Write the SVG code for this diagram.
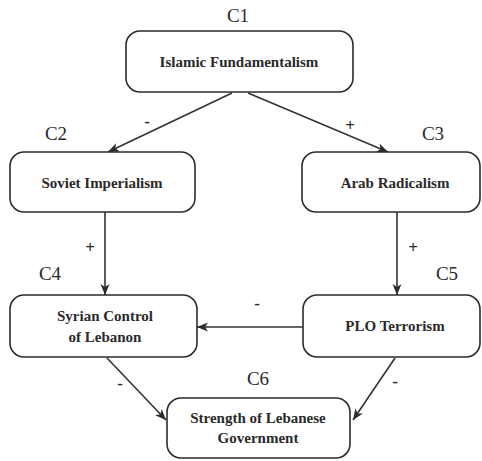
<svg xmlns="http://www.w3.org/2000/svg" width="482" height="461" viewBox="0 0 482 461">
<style>
.box{fill:#fff;stroke:#2b2b2b;stroke-width:1.6}
text{font-family:'Liberation Serif','Times New Roman',Times,serif;fill:#2a2a2a;text-anchor:middle}
.t{font-size:15px;font-weight:bold}
.c{font-size:19px}
.s{font-size:17px;font-weight:bold}
.e{stroke:#333;stroke-width:1.6;fill:none;marker-end:url(#ah)}
</style>
<defs>
<marker id="ah" markerUnits="userSpaceOnUse" markerWidth="12" markerHeight="10" refX="11" refY="4.5" orient="auto">
<path d="M0,0 L11,4.5 L0,9 L3,4.5 z" fill="#2b2b2b"/>
</marker>
</defs>
<rect width="482" height="461" fill="#fff"/>
<g id="connectors">
<line class="e" x1="232" y1="93" x2="108" y2="152"/>
<line class="e" x1="248" y1="93" x2="388" y2="152"/>
<line class="e" x1="105" y1="212" x2="105" y2="295"/>
<line class="e" x1="397" y1="212" x2="397" y2="295"/>
<line class="e" x1="303" y1="327" x2="197" y2="327"/>
<line class="e" x1="107" y1="358" x2="166" y2="420"/>
<line class="e" x1="395" y1="358" x2="353" y2="420"/>
<text class="s" x="147" y="127">-</text>
<text class="s" x="350" y="131">+</text>
<text class="s" x="90" y="253">+</text>
<text class="s" x="413" y="253">+</text>
<text class="s" x="257" y="309">-</text>
<text class="s" x="120" y="389">-</text>
<text class="s" x="395" y="387">-</text>
</g>
<g id="C1">
<text class="c" x="238" y="22">C1</text>
<rect class="box" x="126" y="31" width="227" height="61" rx="14"/>
<text class="t" x="239" y="67">Islamic Fundamentalism</text>
</g>
<g id="C2">
<text class="c" x="56" y="140">C2</text>
<rect class="box" x="10" y="152" width="185" height="60" rx="14"/>
<text class="t" x="102" y="188">Soviet Imperialism</text>
</g>
<g id="C3">
<text class="c" x="433" y="140">C3</text>
<rect class="box" x="302" y="152" width="178" height="60" rx="14"/>
<text class="t" x="395" y="188">Arab Radicalism</text>
</g>
<g id="C4">
<text class="c" x="50" y="280">C4</text>
<rect class="box" x="10" y="295" width="187" height="62" rx="14"/>
<text class="t" x="105" y="321">Syrian Control</text>
<text class="t" x="105" y="342">of Lebanon</text>
</g>
<g id="C5">
<text class="c" x="447" y="280">C5</text>
<rect class="box" x="303" y="295" width="177" height="62" rx="14"/>
<text class="t" x="395" y="331">PLO Terrorism</text>
</g>
<g id="C6">
<text class="c" x="258" y="385">C6</text>
<rect class="box" x="167" y="398" width="183" height="60" rx="14"/>
<text class="t" x="258" y="423">Strength of Lebanese</text>
<text class="t" x="258" y="443">Government</text>
</g>
</svg>
